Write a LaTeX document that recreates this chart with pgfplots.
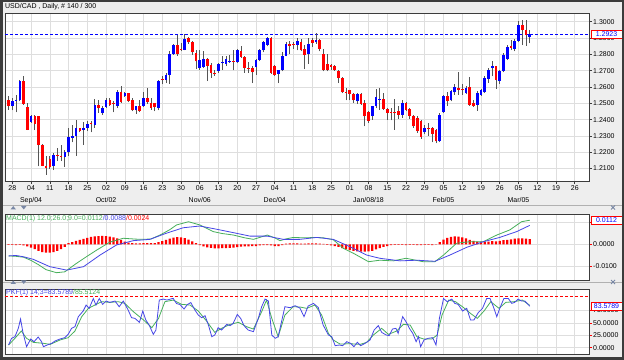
\documentclass[border=0pt]{standalone}
\usepackage{pgfplots}
\pgfplotsset{compat=1.18}
\usepackage{pgfplotstable}
\usepackage{fontspec}
\setmainfont{Liberation Sans}
\definecolor{candleblue}{RGB}{0,0,255}
\definecolor{candlered}{RGB}{255,0,0}
\definecolor{wickc}{RGB}{85,85,85}
\definecolor{gridc}{RGB}{222,222,222}
\definecolor{bgc}{RGB}{238,238,238}
\definecolor{macdgreen}{RGB}{70,175,90}
\definecolor{sigblue}{RGB}{70,70,230}
\definecolor{framec}{RGB}{60,60,60}
\definecolor{arrowc}{RGB}{120,135,165}

\pgfplotstableread{
d O H L C
-1 1.2518 1.2545 1.2461 1.2486
0 1.2482 1.2533 1.2457 1.2512
1 1.2516 1.2551 1.2445 1.2520
2 1.2518 1.2645 1.2512 1.2637
3 1.2637 1.2669 1.2492 1.2498
4 1.2478 1.2502 1.2335 1.2339
5 1.2386 1.2430 1.2380 1.2424
6 1.2424 1.2427 1.2335 1.2373
7 1.2420 1.2424 1.2114 1.2243
8 1.2247 1.2249 1.2114 1.2118
9 1.2118 1.2176 1.2063 1.2102
10 1.2159 1.2176 1.2098 1.2110
11 1.2118 1.2196 1.2090 1.2186
12 1.2184 1.2225 1.2145 1.2176
13 1.2180 1.2247 1.2145 1.2176
14 1.2171 1.2216 1.2110 1.2200
15 1.2200 1.2349 1.2176 1.2294
16 1.2288 1.2369 1.2261 1.2302
17 1.2302 1.2396 1.2180 1.2349
18 1.2349 1.2351 1.2322 1.2329
19 1.2335 1.2384 1.2247 1.2349
20 1.2349 1.2390 1.2329 1.2375
21 1.2377 1.2390 1.2322 1.2372
22 1.2369 1.2527 1.2349 1.2492
23 1.2492 1.2518 1.2441 1.2471
24 1.2441 1.2482 1.2431 1.2471
25 1.2478 1.2533 1.2471 1.2522
26 1.2518 1.2533 1.2482 1.2492
27 1.2501 1.2512 1.2445 1.2497
28 1.2486 1.2580 1.2471 1.2571
29 1.2571 1.2608 1.2502 1.2506
30 1.2543 1.2571 1.2539 1.2563
31 1.2563 1.2565 1.2506 1.2512
32 1.2522 1.2533 1.2451 1.2457
33 1.2457 1.2486 1.2437 1.2482
34 1.2482 1.2522 1.2445 1.2451
35 1.2482 1.2567 1.2478 1.2531
36 1.2531 1.2594 1.2498 1.2506
37 1.2502 1.2533 1.2461 1.2471
38 1.2502 1.2504 1.2451 1.2478
39 1.2471 1.2640 1.2457 1.2635
40 1.2649 1.2669 1.2616 1.2645
41 1.2645 1.2686 1.2624 1.2676
42 1.2676 1.2818 1.2620 1.2804
43 1.2804 1.2865 1.2798 1.2857
44 1.2857 1.2920 1.2792 1.2804
45 1.2834 1.2869 1.2818 1.2830
46 1.2829 1.2927 1.2824 1.2894
47 1.2900 1.2906 1.2865 1.2873
48 1.2878 1.2882 1.2798 1.2812
49 1.2808 1.2824 1.2710 1.2757
50 1.2716 1.2824 1.2706 1.2767
51 1.2722 1.2818 1.2716 1.2771
52 1.2771 1.2778 1.2635 1.2731
53 1.2737 1.2747 1.2655 1.2686
54 1.2687 1.2706 1.2669 1.2683
55 1.2696 1.2747 1.2686 1.2743
56 1.2746 1.2788 1.2706 1.2750
57 1.2743 1.2792 1.2727 1.2771
58 1.2757 1.2798 1.2747 1.2760
59 1.2758 1.2829 1.2702 1.2754
60 1.2751 1.2833 1.2747 1.2824
61 1.2818 1.2849 1.2778 1.2782
62 1.2784 1.2788 1.2686 1.2716
63 1.2719 1.2751 1.2686 1.2715
64 1.2716 1.2727 1.2624 1.2690
65 1.2722 1.2771 1.2676 1.2767
66 1.2767 1.2833 1.2757 1.2824
67 1.2824 1.2880 1.2812 1.2873
68 1.2859 1.2906 1.2849 1.2900
69 1.2900 1.2906 1.2680 1.2686
70 1.2731 1.2737 1.2667 1.2676
71 1.2682 1.2706 1.2624 1.2702
72 1.2702 1.2812 1.2696 1.2792
73 1.2792 1.2873 1.2788 1.2865
74 1.2865 1.2880 1.2804 1.2853
75 1.2862 1.2873 1.2833 1.2857
76 1.2859 1.2900 1.2824 1.2880
77 1.2873 1.2894 1.2818 1.2824
78 1.2833 1.2859 1.2710 1.2798
79 1.2804 1.2900 1.2743 1.2865
80 1.2886 1.2900 1.2845 1.2869
81 1.2873 1.2931 1.2865 1.2890
82 1.2886 1.2894 1.2818 1.2833
83 1.2804 1.2833 1.2696 1.2702
84 1.2743 1.2804 1.2696 1.2702
85 1.2737 1.2743 1.2702 1.2722
86 1.2731 1.2737 1.2700 1.2702
87 1.2696 1.2706 1.2624 1.2655
88 1.2655 1.2661 1.2563 1.2567
89 1.2570 1.2594 1.2518 1.2566
90 1.2580 1.2584 1.2518 1.2559
91 1.2559 1.2563 1.2502 1.2518
92 1.2512 1.2563 1.2498 1.2559
93 1.2559 1.2563 1.2492 1.2498
94 1.2502 1.2518 1.2359 1.2420
95 1.2445 1.2451 1.2380 1.2390
96 1.2424 1.2486 1.2400 1.2482
97 1.2482 1.2588 1.2471 1.2539
98 1.2526 1.2594 1.2461 1.2529
99 1.2527 1.2563 1.2461 1.2465
100 1.2465 1.2471 1.2400 1.2441
101 1.2447 1.2471 1.2396 1.2443
102 1.2444 1.2527 1.2339 1.2439
103 1.2451 1.2482 1.2404 1.2431
104 1.2431 1.2518 1.2412 1.2502
105 1.2502 1.2506 1.2451 1.2461
106 1.2465 1.2471 1.2404 1.2424
107 1.2424 1.2431 1.2349 1.2359
108 1.2410 1.2420 1.2320 1.2330
109 1.2390 1.2396 1.2282 1.2294
110 1.2322 1.2370 1.2310 1.2349
111 1.2350 1.2380 1.2300 1.2346
112 1.2349 1.2355 1.2260 1.2314
113 1.2339 1.2345 1.2255 1.2267
114 1.2267 1.2440 1.2260 1.2431
115 1.2445 1.2553 1.2439 1.2543
116 1.2543 1.2567 1.2486 1.2512
117 1.2518 1.2580 1.2512 1.2573
118 1.2567 1.2620 1.2553 1.2600
119 1.2594 1.2690 1.2553 1.2584
120 1.2589 1.2620 1.2553 1.2585
121 1.2563 1.2605 1.2555 1.2594
122 1.2600 1.2661 1.2486 1.2492
123 1.2502 1.2518 1.2478 1.2486
124 1.2492 1.2573 1.2453 1.2563
125 1.2553 1.2590 1.2545 1.2580
126 1.2567 1.2665 1.2563 1.2655
127 1.2649 1.2716 1.2625 1.2706
128 1.2716 1.2757 1.2665 1.2727
129 1.2727 1.2731 1.2590 1.2645
130 1.2635 1.2706 1.2620 1.2696
131 1.2696 1.2810 1.2690 1.2798
132 1.2771 1.2855 1.2765 1.2845
133 1.2849 1.2890 1.2825 1.2839
134 1.2833 1.2894 1.2818 1.2880
135 1.2880 1.3002 1.2873 1.2982
136 1.2982 1.3008 1.2857 1.2951
137 1.2951 1.3008 1.2853 1.2920
138 1.2906 1.2950 1.2867 1.2923
}\ohlc

\pgfplotstableread{
d h
-1 -0.0003
0 -0.0003
1 -0.0004
2 -0.0003
3 -0.0005
4 -0.0010
5 -0.0016
6 -0.0022
7 -0.0030
8 -0.0036
9 -0.0039
10 -0.0039
11 -0.0036
12 -0.0030
13 -0.0022
14 -0.0012
15 0.0005
16 0.0010
17 0.0016
18 0.0021
19 0.0025
20 0.0030
21 0.0034
22 0.0037
23 0.0038
24 0.0039
25 0.0038
26 0.0036
27 0.0032
28 0.0027
29 0.0020
30 0.0013
31 0.0008
32 0.0005
33 0.0004
34 0.0004
35 0.0005
36 0.0006
37 0.0006
38 0.0005
39 0.0010
40 0.0015
41 0.0020
42 0.0026
43 0.0031
44 0.0033
45 0.0032
46 0.0029
47 0.0022
48 0.0014
49 0.0005
50 -0.0004
51 -0.0010
52 -0.0014
53 -0.0017
54 -0.0019
55 -0.0019
56 -0.0018
57 -0.0018
58 -0.0017
59 -0.0016
60 -0.0013
61 -0.0011
62 -0.0010
63 -0.0010
64 -0.0009
65 -0.0008
66 -0.0005
67 -0.0004
68 -0.0004
69 -0.0005
70 -0.0009
71 -0.0008
72 -0.0004
73 0.0003
74 0.0004
75 0.0004
76 0.0004
77 0.0003
78 0.0003
79 0.0004
80 0.0004
81 0.0004
82 0.0003
83 0.0002
84 -0.0003
85 -0.0005
86 -0.0008
87 -0.0012
88 -0.0018
89 -0.0023
90 -0.0027
91 -0.0030
92 -0.0033
93 -0.0034
94 -0.0034
95 -0.0033
96 -0.0030
97 -0.0024
98 -0.0018
99 -0.0012
100 -0.0008
101 -0.0004
102 -0.0003
103 -0.0003
104 -0.0003
105 -0.0004
106 -0.0003
107 -0.0003
108 -0.0004
109 -0.0004
110 -0.0003
111 -0.0003
112 -0.0004
113 -0.0002
114 0.0010
115 0.0022
116 0.0030
117 0.0035
118 0.0037
119 0.0036
120 0.0032
121 0.0027
122 0.0020
123 0.0016
124 0.0013
125 0.0012
126 0.0012
127 0.0013
128 0.0015
129 0.0014
130 0.0016
131 0.0019
132 0.0021
133 0.0023
134 0.0026
135 0.0028
136 0.0028
137 0.0026
138 0.0024
}\macdhist

\pgfplotsset{
  panel/.style={
    scale only axis, width=584bp, xmin=-1.95, xmax=153.8,
    axis background/.style={fill=white},
    xtick={0,5,...,150},
    grid=major, major grid style={gridc, line width=0.6bp},
    axis line style={framec, line width=0.8bp},
    tick align=outside, major tick length=3bp,
    ytick pos=right, yticklabel pos=right,
    scaled y ticks=false,
    /pgf/number format/assume math mode=true,
    yticklabel style={font=\fontsize{7}{8}\selectfont, /pgf/number format/fixed, /pgf/number format/fixed zerofill, /pgf/number format/precision=4, /pgf/number format/1000 sep={}, inner sep=1bp},
    clip=true,
  }
}

\begin{document}
\begin{tikzpicture}
\path[use as bounding box] (0,0) rectangle (624bp,360bp);
\fill[bgc] (0,0) rectangle (624bp,360bp);
% strips between panels
\draw[gridc!80!black, line width=0.5bp] (2.5bp,155bp) -- (621.5bp,155bp);
\draw[gridc!80!black, line width=0.5bp] (2.5bp,78bp) -- (621.5bp,78bp);

% ---------------- main price panel ----------------
\begin{axis}[panel, at={(5bp,179bp)}, anchor=south west, height=167.5bp,
  ymin=1.2024, ymax=1.3050,
  ytick={1.21,1.22,1.23,1.24,1.25,1.26,1.27,1.28,1.29,1.30},
  xtick pos=bottom,
  tick style={framec, line width=0.6bp},
  xticklabels={28,{04\\Sep/04},11,18,25,{02\\Oct/02},09,16,23,30,{06\\Nov/06},13,20,27,{04\\Dec/04},11,18,25,01,{08\\Jan/08/18},15,22,29,{05\\Feb/05},12,19,26,{05\\Mar/05},12,19,26},
  xticklabel style={align=center, font=\fontsize{7}{12}\selectfont, inner sep=1.5bp},
]
\addplot[blue, dash pattern=on 3bp off 2bp, line width=0.7bp, forget plot] coordinates {(-1.95,1.2923) (153.8,1.2923)};
% wicks
\addplot[forget plot, draw=none, mark=none,
  error bars/.cd, y dir=plus, y explicit, error mark=none,
  error bar style={draw=wickc, line width=0.9bp}]
  table[x=d, y=L, y error plus expr=\thisrow{H}-\thisrow{L}] {\ohlc};
% up bodies
\addplot[forget plot, draw=none, mark=none,
  restrict expr to domain={\thisrow{C}-\thisrow{O}}{0.00001:1},
  error bars/.cd, y dir=plus, y explicit, error mark=none,
  error bar style={draw=candleblue, line width=2.6bp}]
  table[x=d, y=O, y error plus expr=\thisrow{C}-\thisrow{O}] {\ohlc};
% down bodies
\addplot[forget plot, draw=none, mark=none,
  restrict expr to domain={\thisrow{C}-\thisrow{O}}{-1:-0.00001},
  error bars/.cd, y dir=plus, y explicit, error mark=none,
  error bar style={draw=candlered, line width=2.6bp}]
  table[x=d, y=C, y error plus expr=\thisrow{O}-\thisrow{C}] {\ohlc};
\coordinate (boxA) at (axis cs:153.8,1.2923);
\end{axis}

% ---------------- MACD panel ----------------
\begin{axis}[panel, at={(5bp,80bp)}, anchor=south west, height=66bp,
  ymin=-0.0166, ymax=0.01409,
  ytick={-0.01,0,0.01},
  xticklabels={}, xtick style={draw=none},
  ytick style={candlered, line width=0.6bp},
]
\addplot[ybar, bar width=2.2bp, fill=candlered, draw=none, forget plot] table[x=d, y=h] {\macdhist};
\addplot[macdgreen, line width=0.8bp, forget plot] coordinates {
(-1,-0.0054) (1,-0.0056) (3,-0.0060) (5,-0.0075) (7,-0.0095) (9,-0.0118) (11.8,-0.0132) (14,-0.0128) (17,-0.0090) (20,-0.0055) (22.5,-0.0027) (26,0.0010) (29.6,0.0028) (33,0.0024) (35,0.0023) (37,0.0025) (39.4,0.0043) (42,0.0068) (43.8,0.0090) (47,0.0105) (50,0.0090) (53.6,0.0059) (56,0.0050) (59,0.0043) (62,0.0030) (64.3,0.0023) (66,0.0032) (68,0.0043) (70,0.0030) (71.4,0.0017) (73,0.0025) (74.9,0.0032) (78,0.0030) (81,0.0032) (83,0.0030) (85.6,0.0021) (88.3,-0.0019) (91,-0.0042) (95,-0.0081) (98,-0.0074) (101.6,-0.0077) (105,-0.0065) (107,-0.0072) (109.6,-0.0081) (112.7,-0.0081) (115,-0.0050) (118.5,0.0005) (122,0.0012) (125.6,0.0012) (129.2,0.0043) (132.7,0.0067) (135.8,0.0105) (138,0.0112)};
\addplot[sigblue, line width=0.8bp, forget plot] coordinates {
(-1,-0.0054) (1,-0.0052) (3,-0.0058) (5.6,-0.0070) (10,-0.0104) (14.5,-0.0120) (19,-0.0104) (23.4,-0.0050) (27.8,-0.0003) (32.3,0.0017) (36.7,0.0023) (41,0.0051) (45.6,0.0077) (50,0.0085) (54.5,0.0070) (59,0.0054) (63.4,0.0038) (68,0.0038) (72.3,0.0023) (76.7,0.0023) (81.2,0.0032) (85.6,0.0023) (90,-0.0011) (94.5,-0.0050) (98,-0.0065) (103.4,-0.0077) (107.9,-0.0074) (112.7,-0.0079) (116.7,-0.0050) (121.2,-0.0014) (125.6,0.0012) (130,0.0032) (134.5,0.0059) (138,0.0088)};
\coordinate (boxB) at (axis cs:153.8,0.0112);
\end{axis}

% ---------------- Stochastic panel ----------------
\begin{axis}[panel, at={(5bp,6bp)}, anchor=south west, height=65bp,
  ymin=-12.7, ymax=118.3,
  ytick={0,25,50,75},
  xticklabels={}, xtick style={draw=none},
  ytick style={candlered, line width=0.6bp},
]
\addplot[candlered, dash pattern=on 3bp off 2bp, line width=0.7bp, forget plot] coordinates {(-1.95,104) (153.8,104)};
\addplot[macdgreen, line width=0.8bp, forget plot] coordinates {
(-1,5.4) (0.7,18.9) (2.4,33.6) (3.8,18.9) (5.6,10.8) (8.3,8.8) (10.1,6.7) (12.7,15.5) (14.9,20.2) (16.7,33.6) (18.5,62.5) (20.3,79.3) (22,86) (23.8,92.7) (26,91.3) (28.3,92.7) (30,89.3) (32.3,72.5) (35,55.8) (37.2,40.3) (39,59.1) (40.7,92.7) (42.9,96) (45.2,87.3) (47.4,86) (49.6,73.9) (51.8,53.7) (54,30.9) (55.8,39) (58.1,47) (60.3,51.1) (62.5,42.3) (64.3,37.6) (66.5,72.5) (67.8,96) (69.2,59.1) (70.9,22.2) (72.7,65.8) (74.9,82.6) (76.7,82) (78.5,79.3) (80.7,86) (82.5,65.8) (84.3,28.9) (85.6,15.5) (87.4,7.4) (90.1,8) (92.8,6.7) (94.5,10.8) (96.3,25.6) (98.5,39) (100.3,26.9) (102.5,33.6) (104.3,47) (106.1,45.7) (107.9,22.2) (109.7,17.5) (111.9,17.5) (113.3,25.6) (114.6,65.8) (116.4,96) (118.2,92.7) (120.4,80.6) (122.2,69.1) (124,59.1) (125.8,73.9) (127.6,92.7) (129.8,79.3) (131.6,91.3) (133.8,92.7) (136,96) (138,85.51)};
\addplot[sigblue, line width=0.8bp, forget plot] coordinates {
(-1,5.4) (-0.2,18.9) (0.7,22.2) (1.6,39) (2.2,57.8) (2.8,32.3) (3.8,2) (4.9,17.5) (5.8,12.1) (6.9,21.5) (7.8,12.1) (8.3,2) (9.3,5.4) (10.5,8.8) (11.4,13.5) (12.7,17.5) (14,20.2) (14.9,26.9) (15.8,39) (16.7,42.3) (17.6,62.5) (18.9,73.9) (19.7,86) (20.5,79.3) (21.6,99) (22.3,86) (23.2,99) (24.1,87.3) (25,94) (26,91.3) (27.4,94) (28.5,82.6) (29.6,94) (30.9,75.9) (31.8,60.5) (32.7,59.1) (33.9,51.1) (34.8,73.9) (35.6,55.8) (36.5,45.7) (37.6,26.9) (38.3,35.6) (39.2,96) (40.3,98) (41.2,96) (42.2,98) (42.9,99.5) (43.8,89) (44.7,87) (45.8,78) (46.7,87) (47.6,91) (48.7,75.9) (49.6,65.8) (50.5,60.5) (51.4,64.5) (52.3,45.7) (53.2,22.2) (54,25.6) (54.9,40.3) (55.8,35.6) (57.2,47) (58.1,44.4) (58.9,49) (60,67) (60.9,59.1) (61.8,44.4) (62.9,35.6) (64.3,32.3) (65.6,59.1) (66.5,82.6) (67.4,98) (68.3,94) (69.2,25.6) (70.1,18.9) (70.9,22.2) (71.8,52.4) (72.7,82.6) (74.1,80.6) (75.4,84.6) (76.7,80) (77.8,62.5) (78.9,84) (80.3,89.3) (81.6,81) (82.9,45.7) (84.3,25.6) (85.2,22.2) (86.1,4.1) (87.2,5.4) (88.1,4.1) (89.2,12.1) (90.2,8.8) (91.1,2) (92,10.8) (92.9,4.1) (94.1,8.8) (95.4,15.5) (96.5,35.6) (97.6,44.4) (98.5,30.9) (99.7,25.6) (100.5,24.2) (101.4,37.6) (102.3,39) (102.9,28.9) (104.1,62.5) (105,52.4) (105.9,39) (106.8,28.9) (107.7,12.1) (108.3,22.2) (108.9,2) (109.8,15.5) (110.9,18.9) (112.1,20.2) (113,5.4) (113.9,59.1) (115,99) (116,92.7) (117.2,98) (118,89.3) (118.9,87.3) (120.1,73.9) (121.2,79.3) (122.2,55.8) (123.1,55.8) (124.3,71.1) (125.4,79.3) (126.5,99) (127.4,99) (128.3,82.6) (129.2,62.5) (130,79.3) (131.1,99) (132.3,99) (133.2,89.3) (134,91.3) (134.9,98) (135.8,94) (136.7,94) (138,83.58)};
\coordinate (boxC) at (axis cs:153.8,83.5789);
\end{axis}

% value boxes
\tikzset{valbox/.style={anchor=west, draw=candlered, line width=0.6bp, fill=white, text=blue, inner sep=0.6bp, minimum width=31bp, minimum height=8.5bp, font=\fontsize{7}{8}\selectfont}}
\node[valbox] at ([xshift=1.7bp]boxA) {1.2923};
\node[valbox] at ([xshift=1.7bp]boxB) {0.0112};
\node[valbox] at ([xshift=1.7bp]boxC) {83.5789};

% texts
\node[anchor=west, inner sep=0, font=\fontsize{7}{8}\selectfont] at (5bp,353bp) {USD/CAD , Daily, \# 140 / 300};
\node[anchor=west, inner sep=0, font=\fontsize{7}{8}\selectfont] at (6bp,141.7bp) {\textcolor{macdgreen}{MACD(1) 12.0;26.0;9.0=0.0112}\textcolor{sigblue}{/0.0088}\textcolor{candlered}{/0.0024}};
\node[anchor=west, inner sep=0, font=\fontsize{7}{8}\selectfont] at (6bp,67.7bp) {\textcolor{sigblue}{PKF(1) 14;3=83.5789}\textcolor{macdgreen}{/85.5124}};

% panel arrows and close marks
\foreach \yy in {150.5,76} {
  \fill[arrowc] (10.5bp,\yy bp) -- (16bp,\yy bp) -- (13.25bp,\yy bp+3.5bp) -- cycle;
  \fill[arrowc] (21bp,\yy bp+3.5bp) -- (26.5bp,\yy bp+3.5bp) -- (23.75bp,\yy bp) -- cycle;
  \draw[arrowc, line width=0.8bp] (611bp,\yy bp) -- (615bp,\yy bp+4bp) (611bp,\yy bp+4bp) -- (615bp,\yy bp);
}
% outer frame
\draw[framec, line width=2.5bp] (1.25bp,1.25bp) rectangle (622.75bp,358.75bp);
\end{tikzpicture}
\end{document}
